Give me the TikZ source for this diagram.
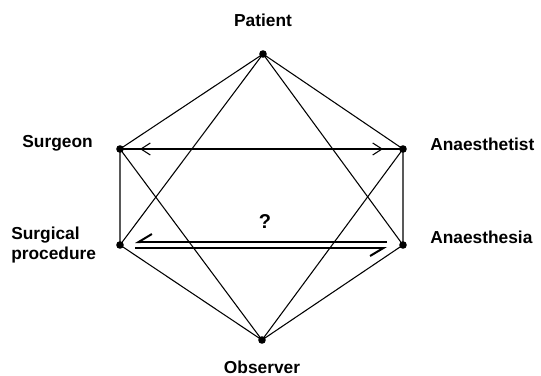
\documentclass[tikz,border=0pt]{standalone}
\usepackage{fontspec}
\setmainfont{Liberation Sans}
\usetikzlibrary{arrows.meta}
\tikzset{
  lbl/.style={font=\fontsize{13}{15}\selectfont\bfseries,inner sep=0pt},
  edge/.style={line width=0.8pt},
  harp/.style={line width=1.7pt,-{Straight Barb[harpoon,swap,length=10pt,width=12pt,line width=1.5pt]}},
}
\begin{document}
\begin{tikzpicture}[x=0.75pt,y=0.75pt]
\useasboundingbox (0,0) rectangle (541,375);
\coordinate (P) at (263,321);
\coordinate (S) at (120,226);
\coordinate (A) at (403,226);
\coordinate (SP) at (120,130);
\coordinate (AN) at (403,130);
\coordinate (O) at (262,35);
% the six lines round the hexagon and the two triangles
\draw[edge] (P) -- (S) -- (SP) -- (O) -- (AN) -- (A) -- cycle;
\draw[edge] (P) -- (SP) (P) -- (AN);
\draw[edge] (O) -- (S) (O) -- (A);
\draw[edge] (S) -- (A);
\draw[edge,{Straight Barb[length=7pt,width=9pt]}-{Straight Barb[length=7pt,width=9pt]},shorten <=15pt,shorten >=15pt] (S) -- (A);
\draw[harp] ([shift={(-16,3)}]AN) -- ([shift={(15,3)}]SP);
\draw[harp] ([shift={(15,-3)}]SP) -- ([shift={(-16,-3)}]AN);
\foreach \p in {P,S,A,SP,AN,O} \fill (\p) circle (3.8);
\node[lbl] (patient) at (263,355) {Patient};
\node[lbl,anchor=east] (surgeon) at (93,232) {Surgeon};
\node[lbl,anchor=west] (anaesthetist) at (430,231) {Anaesthetist};
\node[lbl,anchor=west,align=left] (procedure) at (11,130) {Surgical\\procedure};
\node[lbl,anchor=west] (anaesthesia) at (430,138) {Anaesthesia};
\node[lbl] (observer) at (262,8) {Observer};
\node[lbl,font=\fontsize{15}{17}\selectfont\bfseries] (query) at (265,153) {?};
\end{tikzpicture}
\end{document}
